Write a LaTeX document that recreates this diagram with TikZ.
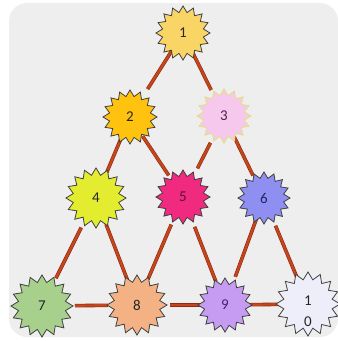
\documentclass[tikz,border=0pt]{standalone}
\usepackage{fontspec}
\setmainfont{Carlito}
\usetikzlibrary{shapes.geometric,backgrounds}

\definecolor{panelgray}{HTML}{EEEEEE}
\definecolor{linkfill}{HTML}{C6451C}
\definecolor{linkrim}{HTML}{8A2C12}
\definecolor{sunA}{HTML}{F9D565}
\definecolor{sunB}{HTML}{FFC20E}
\definecolor{sunC}{HTML}{F7C8EE}
\definecolor{sunD}{HTML}{E3EC2F}
\definecolor{sunE}{HTML}{F02A7E}
\definecolor{sunF}{HTML}{8F8FF2}
\definecolor{sunG}{HTML}{A8D08D}
\definecolor{sunH}{HTML}{F4B183}
\definecolor{sunI}{HTML}{C59CF2}
\definecolor{sunJ}{HTML}{EEEEFB}

\begin{document}
\begin{tikzpicture}[x=1pt,y=1pt]
\tikzstyle{every node}+=[inner sep=0pt]
\tikzstyle{sun}=[star, star points=16, star point ratio=1.3, draw=black!75, line width=0.8pt, minimum size=54pt, font=\fontsize{15}{21}\selectfont, text=black!85]
\tikzstyle{link}=[draw=linkrim, line width=0.6pt, double=linkfill, double distance=2.4pt]
\useasboundingbox (0,0) rectangle (338,-341);
\node [sun, fill=sunA] (n1) at (183,-33) {1};
\node [sun, fill=sunB] (n2) at (130,-117) {2};
\node [sun, fill=sunC, draw={rgb,255:red,222;green,226;blue,120}, text={rgb,255:red,80;green,30;blue,80}] (n3) at (224,-116) {3};
\node [sun, fill=sunD, minimum size=60pt] (n4) at (96,-198) {4};
\node [sun, fill=sunE, text={rgb,255:red,90;green,15;blue,50}] (n5) at (183,-197) {5};
\node [sun, fill=sunF, minimum size=52pt, text={rgb,255:red,35;green,35;blue,100}] (n6) at (264,-198) {6};
\node [sun, fill=sunG, minimum size=62pt] (n7) at (42,-306) {7};
\node [sun, fill=sunH, minimum size=60pt] (n8) at (137,-305) {8};
\node [sun, fill=sunI, text={rgb,255:red,70;green,35;blue,110}] (n9) at (225,-305) {9};
\node [sun, fill=sunJ, minimum size=64pt, label={[align=center, yshift=-7pt, font=\fontsize{15}{21}\selectfont, text=black!85]center:1\\0}] (n10) at (308,-304) {};
\begin{pgfonlayer}{background}
\fill [panelgray, rounded corners=18pt] (9,-3) rectangle (338,-337);
\foreach \a/\b/\s/\e in {1/2/20/33, 1/3/22/29, 2/4/21/25, 2/5/23/26, 3/5/30/32,
  3/6/23/25, 4/7/33/31, 4/8/28/27, 5/8/30/28, 5/9/32/25, 6/9/20/30, 6/10/30/28,
  7/8/33/29, 8/9/33/25, 9/10/25/28}
  \draw [link, shorten <=\s pt, shorten >=\e pt] (n\a.center) -- (n\b.center);
\end{pgfonlayer}
\end{tikzpicture}
\end{document}
